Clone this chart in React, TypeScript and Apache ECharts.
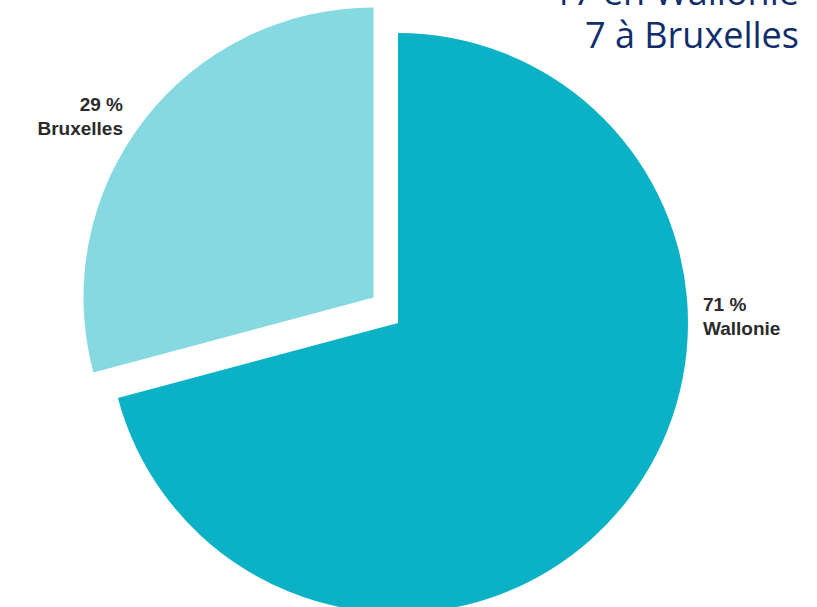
import React, { useEffect, useRef } from "react";
import * as echarts from "echarts";

const categories = ["Wallonie", "Bruxelles"];
const counts = [17, 7];
const colors = ["#0BB1C5", "#86D8E1"];
const titleLines = ["17 en Wallonie", "7 à Bruxelles"];

export default function App() {
  const ref = useRef<HTMLDivElement>(null);
  useEffect(() => {
    document.body.style.margin = "0";
    const chart = echarts.init(ref.current!, null, { renderer: "svg" });
    const makeSeries = (idx: number, center: number[], labelPos: any) => ({
      type: "pie",
      radius: 290,
      center,
      startAngle: 90,
      clockwise: true,
      silent: true,
      avoidLabelOverlap: false,
      percentPrecision: 0,
      emphasis: { disabled: true },
      label: {
        show: true,
        position: "outside",
        formatter: "{d} %\n{b}",
        fontFamily: "Liberation Sans, Arial, sans-serif",
        fontWeight: "bold",
        fontSize: 19,
        lineHeight: 24,
        color: "#2b2b2b",
      },
      labelLine: { show: false },
      labelLayout: () => labelPos,
      data: categories.map((name, i) => ({
        name,
        value: counts[i],
        itemStyle: { color: i === idx ? colors[i] : "rgba(0,0,0,0)" },
        label: { show: i === idx },
      })),
    });
    chart.setOption({
      animation: false,
      series: [
        makeSeries(0, [398, 323], { x: 703, y: 316, align: "left", verticalAlign: "middle" }),
        makeSeries(1, [373.5, 297.5], { x: 123, y: 116, align: "right", verticalAlign: "middle" }),
      ],
      graphic: titleLines.map((t, i) => ({
        type: "text",
        x: 799,
        y: -9 + i * 43,
        style: {
          text: t,
          fill: "#112d6c",
          font: "36px 'Open Sans', sans-serif",
          textAlign: "right",
          textVerticalAlign: "middle",
        },
      })),
    });
    return () => chart.dispose();
  }, []);
  return <div ref={ref} style={{ width: 817, height: 607 }} />;
}
